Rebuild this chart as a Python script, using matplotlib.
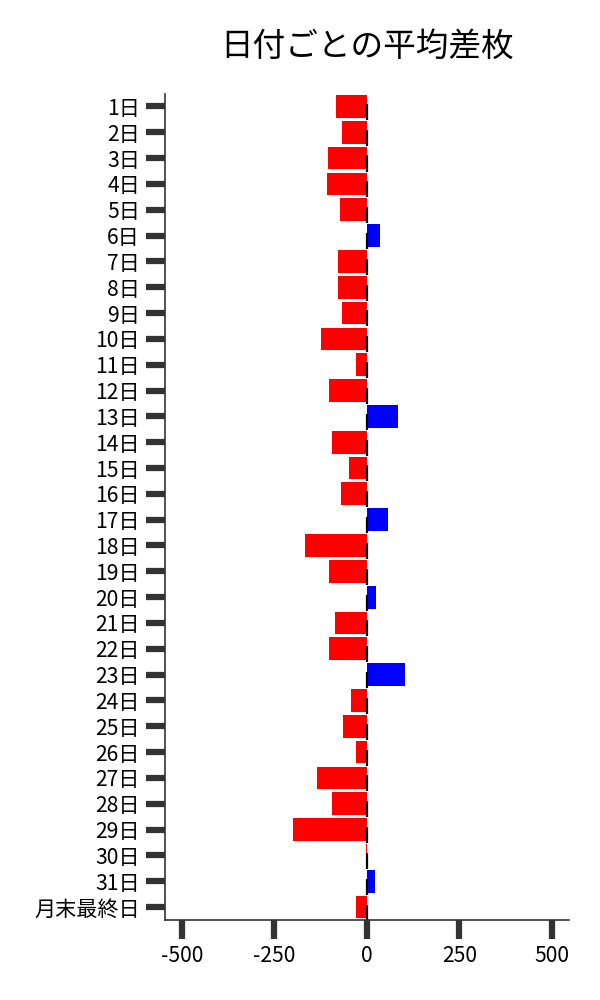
import matplotlib
matplotlib.use("Agg")
import matplotlib.pyplot as plt

plt.rcParams["font.family"] = ["Noto Sans CJK JP", "DejaVu Sans"]

# category labels and average values
days = [f"{d}日" for d in range(1, 32)] + ["月末最終日"]
values = [-83, -67, -105, -107, -72, 36, -77, -77, -67, -123,
          -29, -102, 85, -94, -48, -69, 58, -167, -102, 25,
          -86, -102, 104, -42, -64, -29, -134, -94, -199, -3,
          22, -29]
colors = ["blue" if v > 0 else "red" for v in values]

fig = plt.figure(figsize=(6, 10), dpi=100)
ax = fig.add_axes([0.275, 0.08, 0.673, 0.8265])

pos = list(range(len(days)))
ax.barh(pos, values, height=0.88, color=colors)
# short black marks at zero
ax.vlines([0] * len(pos), [p - 0.1 for p in pos], [p + 0.52 for p in pos],
          color="black", lw=1.6)

ax.set_yticks(pos)
ax.set_yticklabels(days)
ax.set_ylim(len(days) - 0.5, -0.5)
ax.set_xlim(-546, 546)
ax.set_xticks([-500, -250, 0, 250, 500])
ax.set_xticklabels(["-500", "-250", "0", "250", "500"])

ax.tick_params(axis="both", length=14, width=4.5, color="#333333",
               labelsize=15.2, pad=4)
for s in ["top", "right"]:
    ax.spines[s].set_visible(False)
for s in ["left", "bottom"]:
    ax.spines[s].set_color("#333333")
    ax.spines[s].set_linewidth(1.2)

ax.set_title("日付ごとの平均差枚", fontsize=23.5, pad=27)

fig.savefig("out.png", dpi=100)
